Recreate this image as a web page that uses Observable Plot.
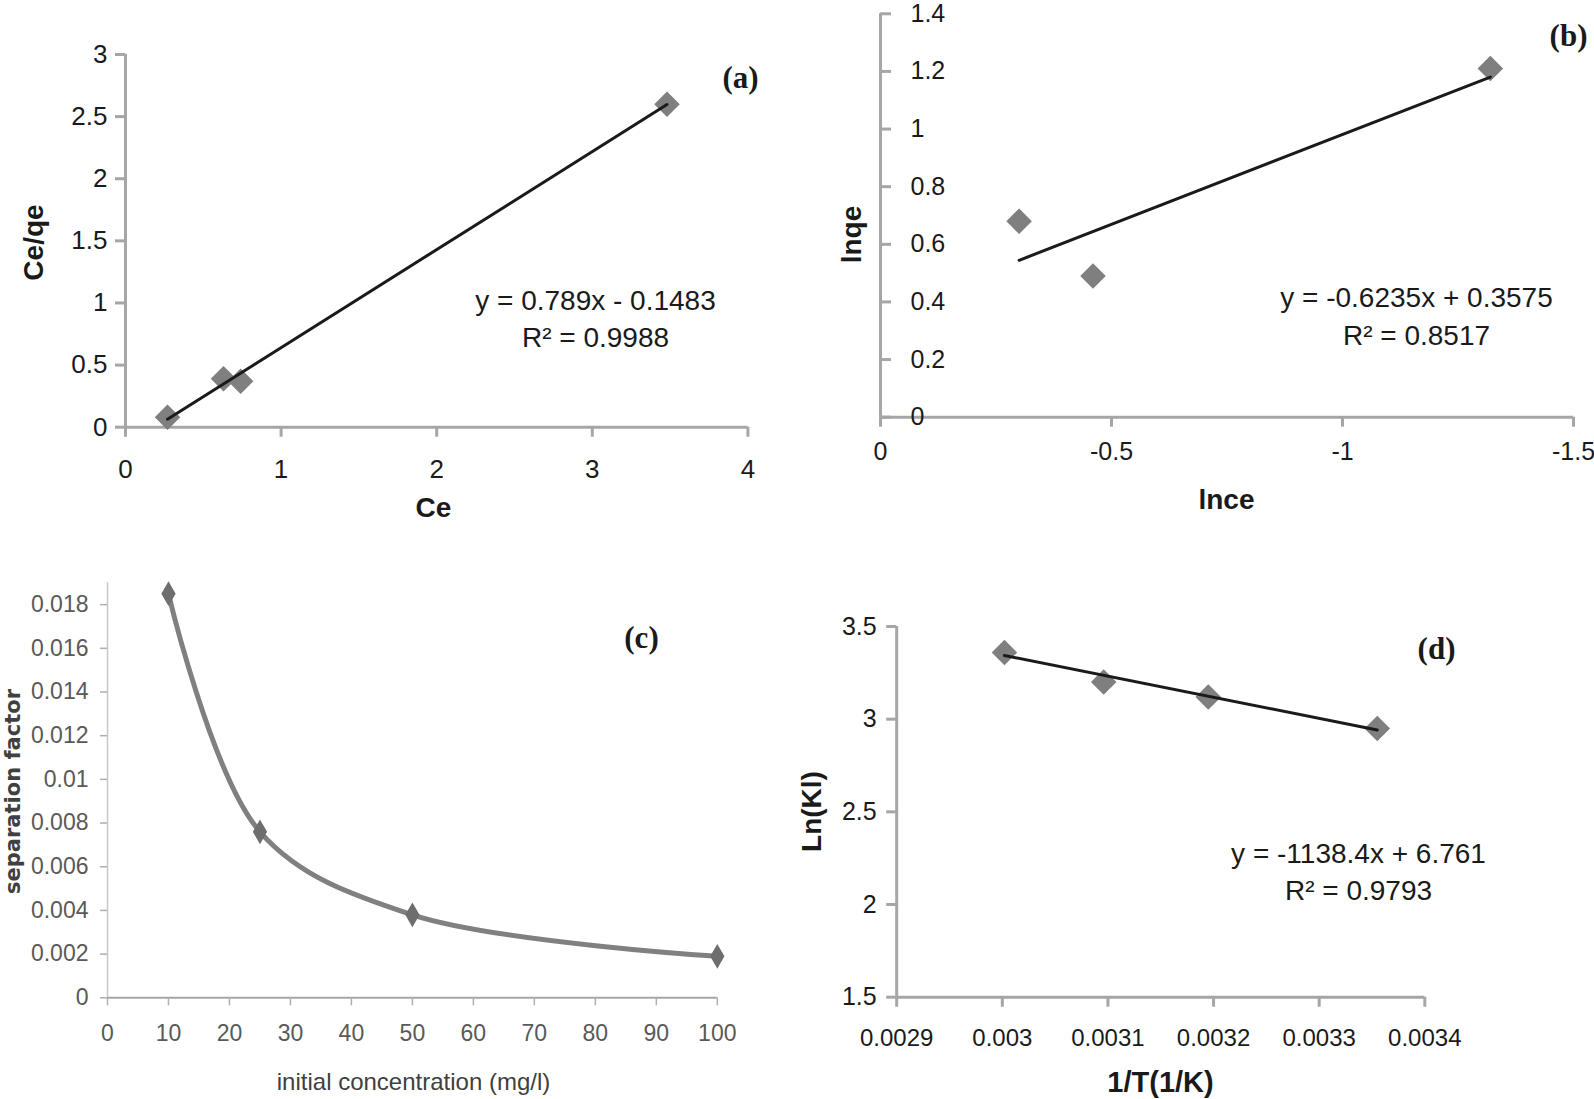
<!DOCTYPE html>
<html><head><meta charset="utf-8">
<script src="https://cdn.jsdelivr.net/npm/d3@7"></script>
<script src="https://cdn.jsdelivr.net/npm/@observablehq/plot@0.6"></script>
<style>
html,body{margin:0;padding:0;background:#fff;}
#wrap{position:relative;width:1594px;height:1099px;overflow:hidden;background:#fff;}
</style></head><body><div id="wrap"></div>
<script>
// ---------- Panel (a): Langmuir ----------
const aCe = [0.27, 0.63, 0.74, 3.48];
const aCeQe = [0.08, 0.39, 0.37, 2.60];
const aXTicks = [0, 1, 2, 3, 4];
const aYTicks = [0, 0.5, 1, 1.5, 2, 2.5, 3];
const aFit = {slope: 0.789, intercept: -0.1483};
const aEquation = ["y = 0.789x - 0.1483", "R² = 0.9988"];

// ---------- Panel (b): Freundlich ----------
const bLnCe = [-0.30, -0.46, -1.32];
const bLnQe = [0.68, 0.49, 1.21];
const bXTicks = [0, -0.5, -1, -1.5];
const bYTicks = [0, 0.2, 0.4, 0.6, 0.8, 1, 1.2, 1.4];
const bFit = {slope: -0.6235, intercept: 0.3575};
const bEquation = ["y = -0.6235x + 0.3575", "R² = 0.8517"];

// ---------- Panel (c): separation factor ----------
const cConc = [10, 25, 50, 100];
const cRL = [0.0185, 0.0076, 0.0038, 0.0019];
const cXTicks = [0, 10, 20, 30, 40, 50, 60, 70, 80, 90, 100];
const cYTicks = [0, 0.002, 0.004, 0.006, 0.008, 0.01, 0.012, 0.014, 0.016, 0.018];

// ---------- Panel (d): van 't Hoff ----------
const dInvT = [0.003002, 0.003096, 0.003195, 0.003355];
const dLnKl = [3.36, 3.20, 3.12, 2.95];
const dXTicks = [0.0029, 0.003, 0.0031, 0.0032, 0.0033, 0.0034];
const dYTicks = [1.5, 2, 2.5, 3, 3.5];
const dFit = {slope: -1138.4, intercept: 6.761};
const dEquation = ["y = -1138.4x + 6.761", "R² = 0.9793"];

const FONT = "'Liberation Sans', Arial, sans-serif";
const NARROW = "'Liberation Sans Narrow', 'Arial Narrow', 'Liberation Sans', sans-serif";
const SERIF = "'Liberation Serif', 'Times New Roman', serif";
const AXIS = "#a6a6a6";
const TXT = "#1a1a1a";
const MARK = "#7f7f7f";
const W = document.getElementById("wrap");

function mount(svg, P) {
  svg.style.position = "absolute";
  svg.style.left = P.left + "px";
  svg.style.top = P.top + "px";
  W.appendChild(svg);
}
function label(txt, X, Y, P, o = {}) {
  return Plot.text([txt], {
    text: d => d, frameAnchor: "top-left",
    dx: X - P.left - P.mL, dy: Y - P.top - P.mT,
    textAnchor: "middle", lineAnchor: "middle",
    fill: TXT, fontFamily: FONT, fontSize: 28, ...o
  });
}
const pts = (xs, ys) => xs.map((x, i) => ({x, y: ys[i]}));
const trend = (xs, f) => d3.extent(xs).map(x => ({x, y: f.slope * x + f.intercept}));
const base = P => ({
  width: P.w, height: P.h, marginLeft: P.mL, marginRight: P.mR, marginTop: P.mT, marginBottom: P.mB,
  style: {fontFamily: FONT, background: "transparent", overflow: "visible"}
});

// ---- (a)
const PA = {left: 0, top: 0, w: 800, h: 530, mL: 125, mR: 52.6, mT: 54, mB: 103.3};
mount(Plot.plot({
  ...base(PA),
  x: {domain: [0, 4]}, y: {domain: [0, 3]},
  marks: [
    Plot.ruleY([0], {stroke: AXIS, strokeWidth: 3}),
    Plot.ruleX([0], {stroke: AXIS, strokeWidth: 3}),
    Plot.axisX({ticks: aXTicks, tickFormat: String, tickSize: 10, tickPadding: 22, stroke: AXIS, strokeWidth: 3, fill: TXT, fontSize: 26, label: null}),
    Plot.axisY({ticks: aYTicks, tickFormat: String, tickSize: 10, tickPadding: 8, stroke: AXIS, strokeWidth: 3, fill: TXT, fontSize: 26, label: null}),
    Plot.dot(pts(aCe, aCeQe), {x: "x", y: "y", symbol: "diamond2", r: 11.5, fill: MARK, stroke: null}),
    Plot.line(trend(aCe, aFit), {x: "x", y: "y", stroke: TXT, strokeWidth: 3}),
    label(aEquation[0], 595, 301, PA),
    label(aEquation[1], 595, 338, PA),
    label("(a)", 740, 78, PA, {fontFamily: SERIF, fontWeight: "bold", fontSize: 31}),
    label("Ce/qe", 34, 242, PA, {fontWeight: "bold", rotate: -90}),
    label("Ce", 433, 508, PA, {fontWeight: "bold"})
  ]
}), PA);

// ---- (b)
const PB = {left: 800, top: 0, w: 794, h: 530, mL: 80, mR: 21, mT: 13.3, mB: 113.3};
mount(Plot.plot({
  ...base(PB),
  x: {domain: [0, -1.5]}, y: {domain: [0, 1.4]},
  marks: [
    Plot.ruleY([0], {stroke: AXIS, strokeWidth: 3}),
    Plot.ruleX([0], {stroke: AXIS, strokeWidth: 3}),
    Plot.axisX({ticks: bXTicks, tickFormat: String, tickSize: 10, tickPadding: 15, stroke: AXIS, strokeWidth: 3, fill: TXT, fontSize: 25, label: null}),
    Plot.axisY({anchor: "left", ticks: bYTicks, tickFormat: String, tickSize: -11, tickPadding: -19, textAnchor: "start", stroke: AXIS, strokeWidth: 3, fill: TXT, fontSize: 25, label: null}),
    Plot.dot(pts(bLnCe, bLnQe), {x: "x", y: "y", symbol: "diamond2", r: 11.5, fill: MARK, stroke: null}),
    Plot.line(trend(bLnCe, bFit), {x: "x", y: "y", stroke: TXT, strokeWidth: 3}),
    label(bEquation[0], 1416, 298, PB),
    label(bEquation[1], 1416, 336, PB),
    label("(b)", 1568, 36, PB, {fontFamily: SERIF, fontWeight: "bold", fontSize: 31}),
    label("lnqe", 852, 234, PB, {fontWeight: "bold", rotate: -90}),
    label("lnce", 1226, 500, PB, {fontWeight: "bold"})
  ]
}), PB);

// ---- (c)
const PC = {left: 0, top: 540, w: 800, h: 559, mL: 107, mR: 83.2, mT: 42.3, mB: 101.7};
mount(Plot.plot({
  ...base(PC),
  x: {domain: [0, 100]}, y: {domain: [0, 0.019]},
  marks: [
    Plot.ruleX([0], {stroke: "#c8c8c8", strokeWidth: 1.5}),
    Plot.ruleY([0], {stroke: "#a6a6a6", strokeWidth: 2}),
    Plot.axisX({ticks: cXTicks, tickFormat: String, tickSize: 8, tickPadding: 19, stroke: "#b0b0b0", strokeWidth: 1.5, fill: "#595959", fontSize: 23, fontFamily: NARROW, label: null}),
    Plot.axisY({ticks: cYTicks, tickFormat: String, tickSize: 7, tickPadding: 12, stroke: "#b0b0b0", strokeWidth: 1.5, fill: "#595959", fontSize: 23, fontFamily: NARROW, label: null}),
    Plot.line(pts(cConc, cRL), {x: "x", y: "y", curve: "catmull-rom", stroke: "#808080", strokeWidth: 5}),
    Plot.dot(pts(cConc, cRL), {x: "x", y: "y", symbol: "diamond", r: 7.5, fill: "#6e6e6e", stroke: null}),
    label("(c)", 641, 638, PC, {fontFamily: SERIF, fontWeight: "bold", fontSize: 31}),
    label("separation factor", 13, 791, PC, {fontFamily: "'DejaVu Sans', sans-serif", fontWeight: "bold", fontSize: 21, rotate: -90, fill: "#404040"}),
    label("initial concentration (mg/l)", 413, 1082, PC, {fontSize: 24, fill: "#404040"})
  ]
}), PC);

// ---- (d)
const PD = {left: 800, top: 540, w: 794, h: 559, mL: 96.2, mR: 169.7, mT: 86, mB: 102.3};
mount(Plot.plot({
  ...base(PD),
  x: {domain: [0.0029, 0.0034]}, y: {domain: [1.5, 3.5]},
  marks: [
    Plot.ruleY([1.5], {stroke: AXIS, strokeWidth: 3}),
    Plot.ruleX([0.0029], {stroke: AXIS, strokeWidth: 3}),
    Plot.axisX({ticks: dXTicks, tickFormat: String, tickSize: 10, tickPadding: 22, stroke: AXIS, strokeWidth: 3, fill: TXT, fontSize: 24, label: null}),
    Plot.axisY({ticks: dYTicks, tickFormat: String, tickSize: 10, tickPadding: 10, stroke: AXIS, strokeWidth: 3, fill: TXT, fontSize: 25, label: null}),
    Plot.dot(pts(dInvT, dLnKl), {x: "x", y: "y", symbol: "diamond2", r: 11.5, fill: MARK, stroke: null}),
    Plot.line(trend(dInvT, dFit), {x: "x", y: "y", stroke: TXT, strokeWidth: 3}),
    label(dEquation[0], 1358, 854, PD),
    label(dEquation[1], 1358, 891, PD),
    label("(d)", 1436, 649, PD, {fontFamily: SERIF, fontWeight: "bold", fontSize: 31}),
    label("Ln(Kl)", 812, 811, PD, {fontWeight: "bold", rotate: -90}),
    label("1/T(1/K)", 1160, 1082, PD, {fontWeight: "bold", fontSize: 29})
  ]
}), PD);
</script>
</body></html>
